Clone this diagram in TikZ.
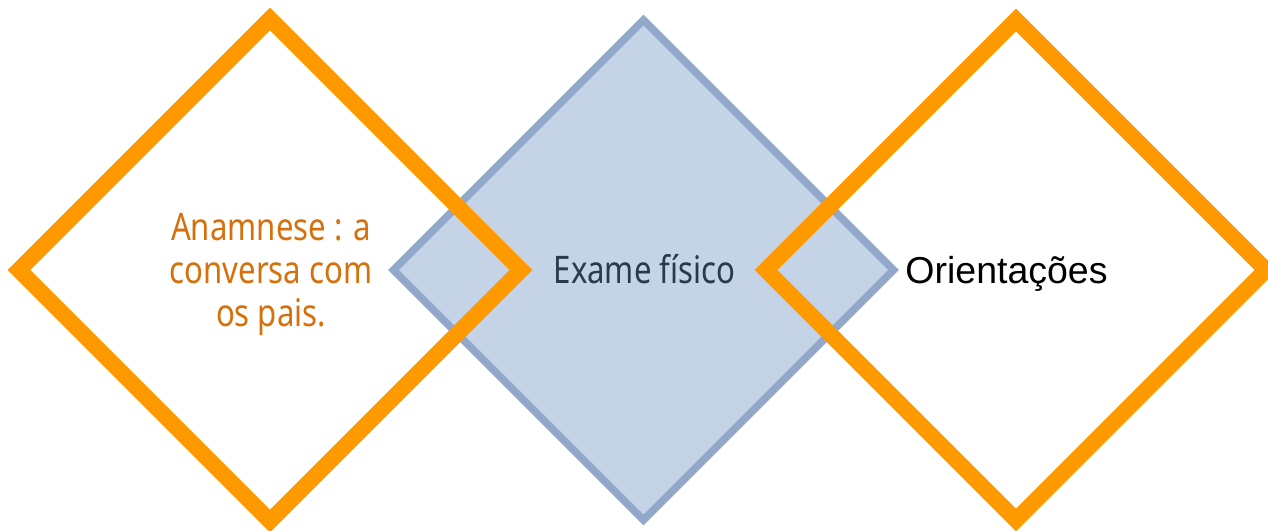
\documentclass[tikz,border=0pt]{standalone}
\usepackage{fontspec}
\setmainfont{Liberation Sans}
\newfontfamily\condfont[FakeStretch=0.82]{Noto Sans}
\definecolor{diaorange}{HTML}{FF9900}
\definecolor{diafill}{HTML}{C5D3E6}
\definecolor{diaedge}{HTML}{91A8CB}
\definecolor{txtorange}{HTML}{D6700B}
\definecolor{txtslate}{HTML}{2B394F}
\tikzset{
  orangediamond/.style={draw=diaorange, line width=16pt, line join=miter},
  bluediamond/.style={draw=diaedge, fill=diafill, line width=7.5pt, line join=miter},
  condlabel/.style={font=\condfont\fontsize{38}{43}\selectfont, inner sep=0pt, align=center},
  plainlabel/.style={font=\fontsize{37.5}{43}\selectfont, inner sep=0pt}
}
\begin{document}
\begin{tikzpicture}[x=1pt, y=-1pt]
  \useasboundingbox (0,0) rectangle (1268,530);
  % diamond centres
  \coordinate (cl) at (270,270);
  \coordinate (cm) at (643.5,270);
  \coordinate (cr) at (1016,270);
  % middle filled diamond, drawn first so the orange outlines lie over it
  \draw[bluediamond] ([xshift=-250pt]cm) -- ([yshift=250pt]cm) -- ([xshift=250pt]cm) -- ([yshift=-250pt]cm) -- cycle;
  % outer open diamonds
  \draw[orangediamond] ([xshift=-251pt]cl) -- ([yshift=251pt]cl) -- ([xshift=251pt]cl) -- ([yshift=-251pt]cl) -- cycle;
  \draw[orangediamond] ([xshift=-250pt]cr) -- ([yshift=250pt]cr) -- ([xshift=250pt]cr) -- ([yshift=-250pt]cr) -- cycle;
  % labels
  \node[condlabel, text=txtorange] (anamnese) at (271,274) {Anamnese : a\\conversa com\\os pais.};
  \node[condlabel, text=txtslate, anchor=base] (exame) at (644.5,283) {Exame físico};
  \node[plainlabel, text=black, anchor=base] (orient) at (1006.5,283) {Orientações};
\end{tikzpicture}
\end{document}
